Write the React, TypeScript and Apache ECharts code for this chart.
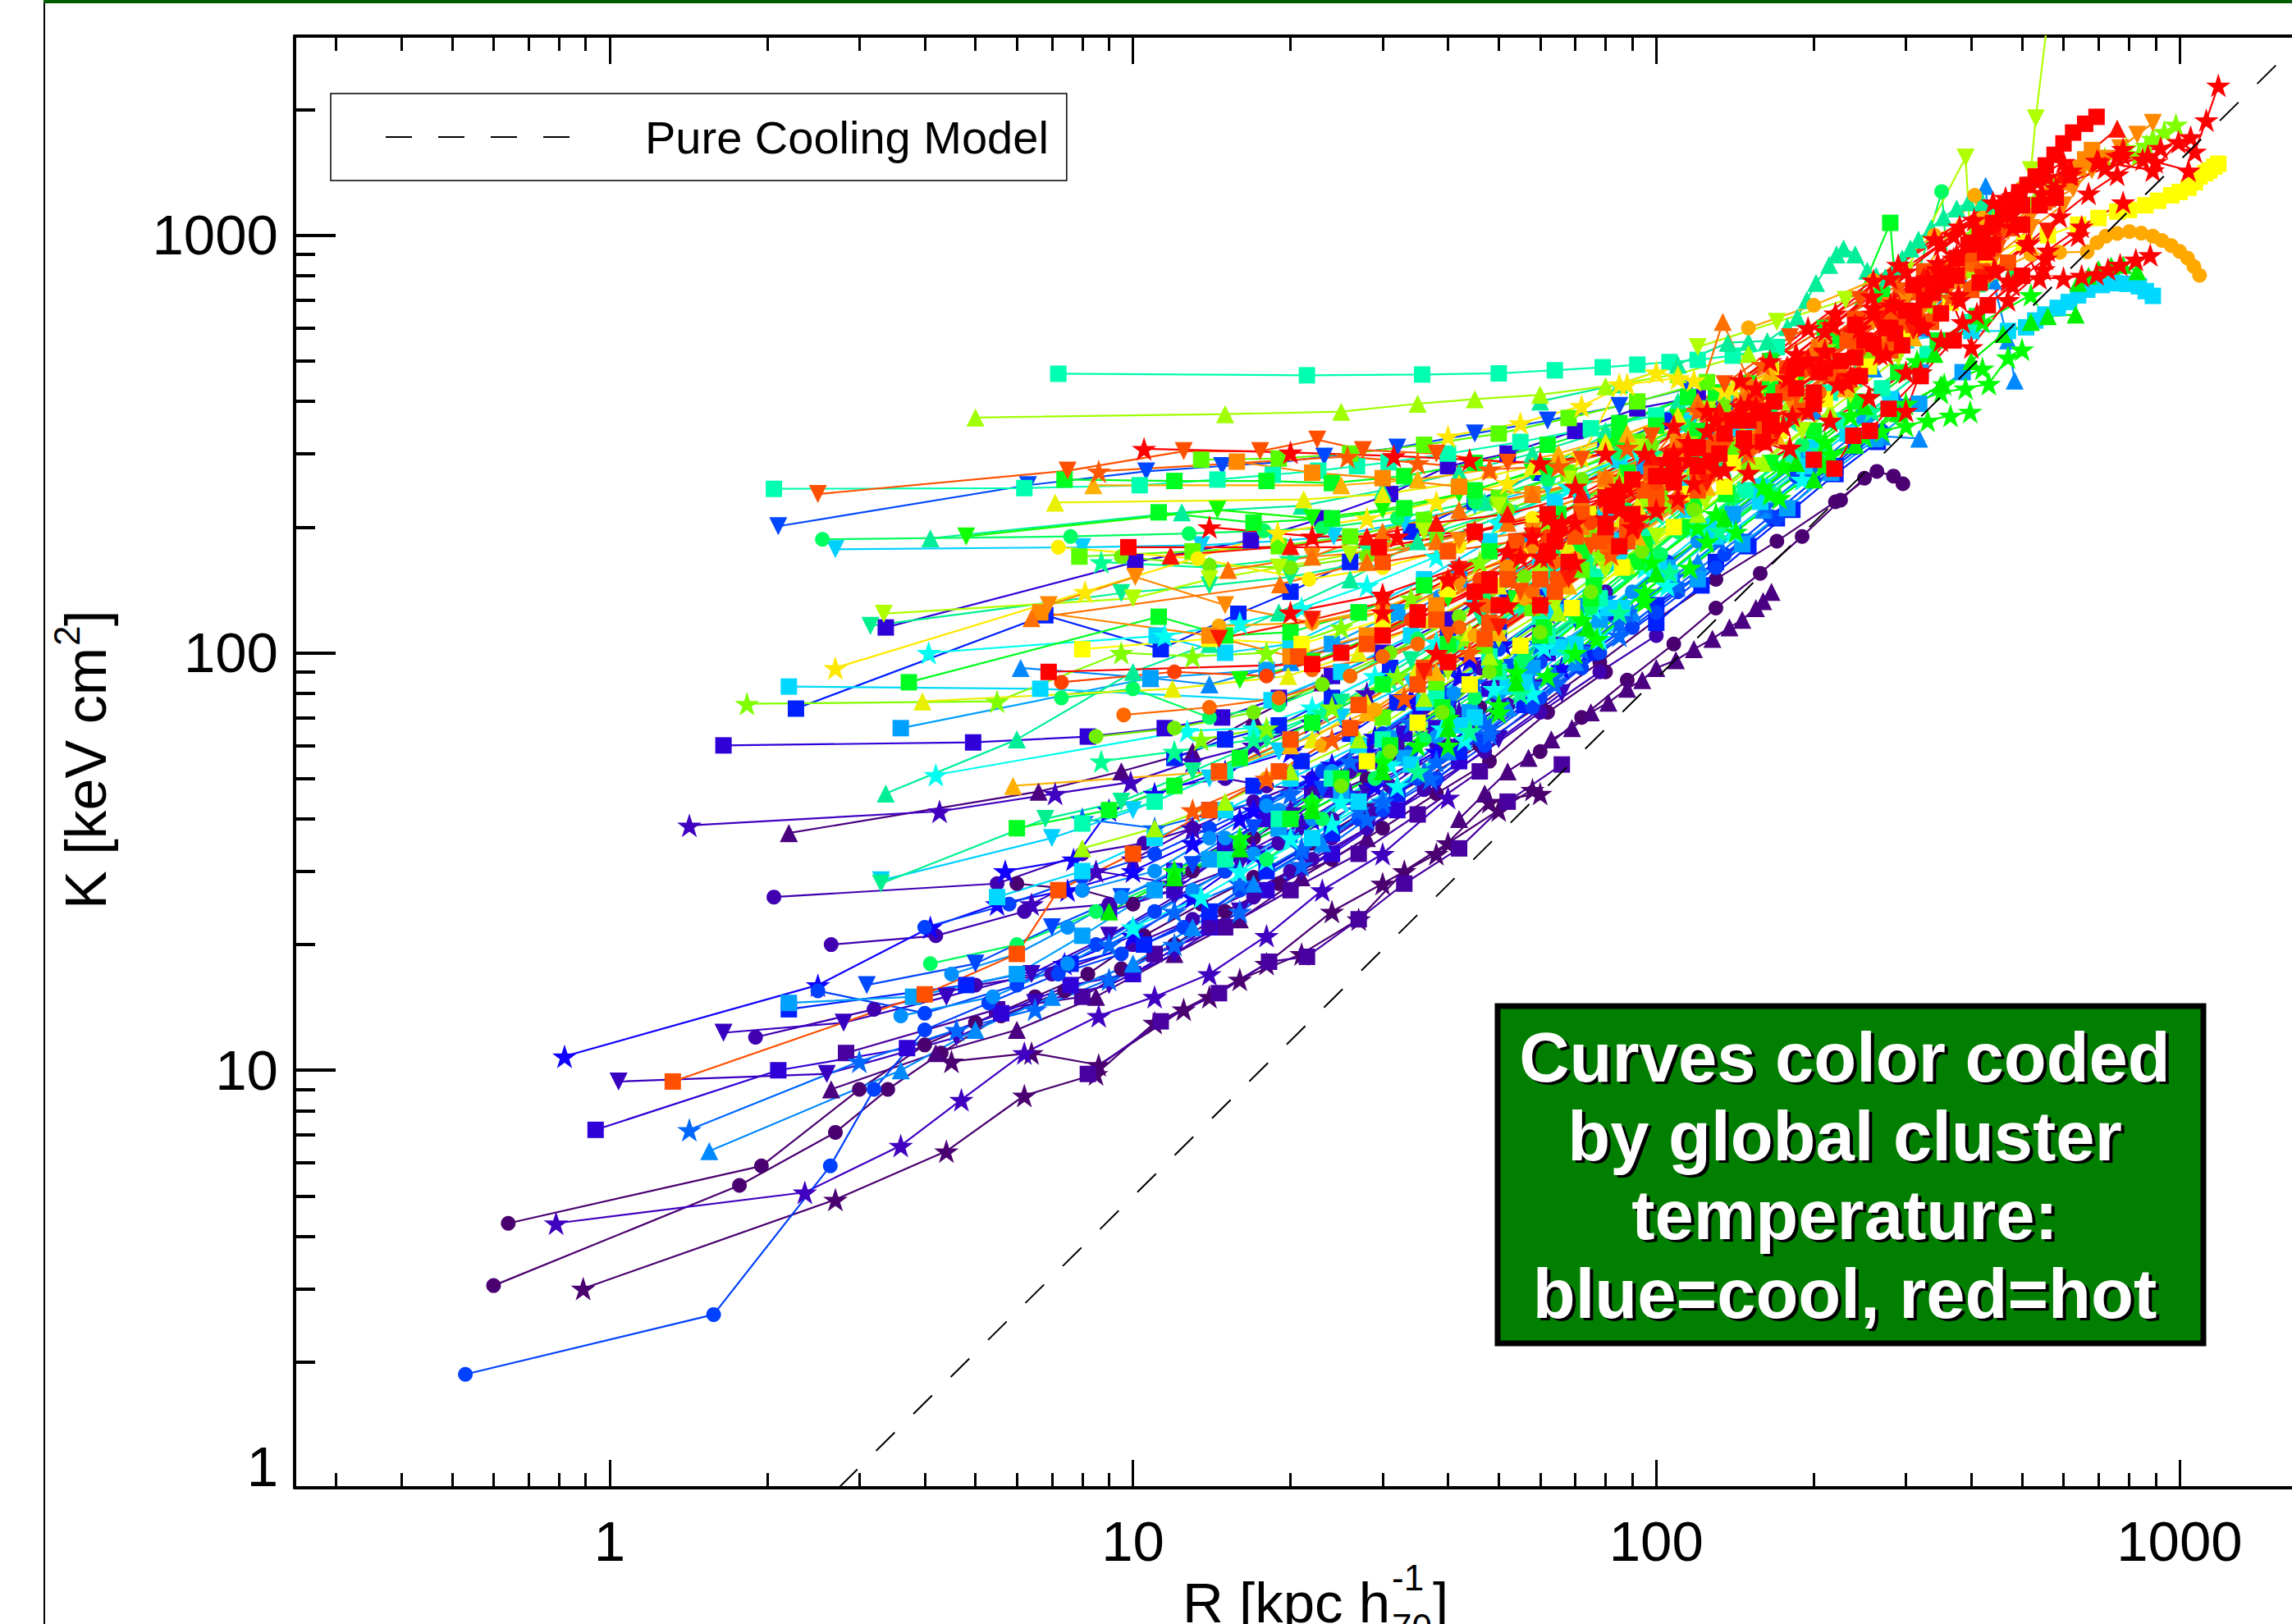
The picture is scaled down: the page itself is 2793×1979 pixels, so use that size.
import React, { useEffect, useRef } from "react";
import * as echarts from "echarts";

type Curve = number[][];

const xMajorTicks = [1, 10, 100, 1000];
const xMinorTicks = [0.3, 0.4, 0.5, 0.6, 0.7, 0.8, 0.9, 2, 3, 4, 5, 6, 7, 8, 9, 20, 30, 40, 50, 60, 70, 80, 90, 200, 300, 400, 500, 600, 700, 800, 900];
const yMajorTicks = [1, 10, 100, 1000];
const yMinorTicks = [2, 3, 4, 5, 6, 7, 8, 9, 20, 30, 40, 50, 60, 70, 80, 90, 200, 300, 400, 500, 600, 700, 800, 900, 2000, 3000];
const coolingModel: Curve = [[2.74, 1], [1640, 2789]];

const purpleCircles: Curve[] = [
  [[.6,3.05],[1.77,5.3],[2.7,7.1],[3.4,9],[4.3,11],[5.6,13.5],[7.4,15.5],[9.5,17.5],[12,20],[15,24],[19,28],[24,32],[30,38],[38,46],[48,55],[62,72],[80,90]],
  [[.64,4.3],[1.95,5.9],[3,9],[4,11.5],[5,13],[6.5,15],[8.2,17],[10.5,21],[13.5,25],[17,29],[22,35],[28,42],[36,50],[46,60],[60,75],[78,95],[100,120],[130,150],[170,185],[220,230],[264,272],[284,265],[296,254]],
  [[6,28],[8,27],[10,25],[13,30],[17,36],[22,44],[28,50],[36,62],[46,74]],
  [[60,58],[72,70],[88,86],[108,105],[130,128],[158,155],[190,190],[225,232],[250,262]],
];
const purpleStars: Curve[] = [
  [[.89,3],[2.7,4.9],[4.4,6.4],[6.2,8.7],[8.5,9.8],[11,13],[14,15],[18,18],[24,24],[30,28],[38,33],[48,44],[60,46]],
  [[4.5,10.5],[6.4,11],[8.6,10.3],[12.5,14],[16,16.5],[21,19],[27,23],[33,30],[40,35],[50,42],[58,47]],
];
const purpleTriangles: Curve[] = [
  [[2.2,37],[6.6,46.5],[9.5,52],[13,58],[17,70],[23,85]],
  [[2.65,9],[4.2,11],[6,12.5],[8.5,15],[12,19],[16,23],[21,29],[28,36]],
  [[42,40],[47,46],[52,52],[57,56],[63,62],[69,66],[75,72],[81,76],[88,82],[94,86],[100,92],[109,96],[118,102],[128,108],[138,115],[146,120],[155,128],[160,133],[166,140]],
];
const violetSquares: Curve[] = [
  [[8.2,9.8],[11.3,13.1],[14.6,15.3],[18.2,18.2],[21.5,18.7],[27,23],[33,28],[42,34],[52,44],[66,54]],
  [[2.83,11],[5.5,14],[8,15],[11,19],[15,22],[20,27],[27,33],[35,41],[46,52]],
];
const indigoSquares: Curve[] = [
  [[.94,7.2],[2.1,10],[3.7,11.3],[5.6,13.7],[7.6,16],[10,17],[14,22],[18,27],[24,33],[32,42],[42,55]],
  [[3.37,115],[10.1,165],[16.8,186],[23,210],[31,240],[40,280],[52,300],[70,340],[92,385],[120,410]],
  [[1.65,60],[4.95,61],[8.2,63],[11.5,66],[14.8,70],[19,78],[24,88],[30,100],[40,120],[52,150],[70,190]],
  [[9,24],[12,27],[15,33],[19,38],[24,47],[30,55],[38,66],[48,82],[62,100],[80,125],[105,160]],
  [[12,30],[15,35],[18,40],[22,46],[27,54],[33,64],[40,76],[50,90]],
];
const indigoStars: Curve[] = [
  [[1.42,38.6],[4.27,41.7],[7.1,46],[9.9,49],[13,55],[17,60],[22,68],[28,80]],
  [[.79,4.3],[2.36,5.1],[3.6,6.6],[4.7,8.5],[6.2,11],[8.6,13.5],[11,15],[14,17],[18,21],[23,27],[30,33],[40,45]],
  [[6.4,25],[8.5,30],[12,28],[16,34],[20,42],[25,50],[32,58],[42,72]],
  [[10,32],[13,38],[17,34],[21,39],[26,46],[34,54],[44,68],[58,85]],
];
const indigoCircles: Curve[] = [
  [[2.06,26],[5.5,28],[8,33],[10.5,35],[13,38],[17,44],[22,50],[28,60],[36,74],[46,92],[60,115],[80,140]],
  [[2.65,20],[4.2,21],[6.2,24],[9,25],[12,27],[15,30],[19,35],[24,40],[31,48],[40,60],[52,75]],
  [[1.9,12],[3.2,14],[5,16],[7,17],[10,20],[13,23],[17,27],[22,32],[28,38],[36,47],[47,58],[60,72],[78,90],[100,110]],
  [[12,48],[15,50],[18,48],[22,47],[26,52],[32,60],[40,70],[50,85],[65,105]],
  [[14,22],[17,26],[20,30],[24,36],[29,42],[35,50],[42,60],[50,72]],
];
const indigoInverted: Curve[] = [
  [[1.04,9.4],[2.6,9.8],[4.6,12],[6.5,14.5],[9,16],[12,19],[16,24],[21,30],[28,38],[38,48],[50,62],[66,80]],
  [[1.65,12.3],[2.8,13],[4.4,15],[6.4,17],[9,21],[12,26],[16,31],[21,38],[28,46],[38,58],[50,74]],
];
const blueStars: Curve[] = [
  [[.82,10.8],[2.5,16],[4.1,22],[5.5,25],[7.5,27],[10,30],[13,35],[17,42],[22,50],[28,58],[35,70]],
  [[5.7,30],[7.7,32],[9,42],[11,46],[15,52],[20,58],[26,66],[34,78],[44,96]],
  [[7.4,18],[10,21],[13,26],[17,33],[22,40],[29,48],[38,58],[50,72],[66,92]],
  [[16,40],[20,46],[24,54],[29,63],[35,74],[42,88],[51,105],[62,125]],
];
const blueSquares: Curve[] = [
  [[2.27,73.5],[6.8,123],[11.3,102],[15.9,124],[20,140],[26,165],[34,195],[45,230],[60,270],[80,310],[105,360],[135,400],[170,470]],
  [[2.2,14],[4.8,16],[7.6,18],[10.5,20],[14,24],[18,30],[24,37],[32,46],[42,58],[56,75],[75,100],[100,130],[130,165],[170,210],[220,280]],
  [[12,56],[15,62],[19,67],[24,78],[31,92],[40,110],[52,135],[68,165],[90,205],[120,260]],
  [[14,42],[17,48],[21,55],[26,64],[32,76],[40,92],[50,112],[62,136]],
  [[100,118],[122,145],[150,180],[182,220],[220,268],[265,320]],
];
const blueCircles: Curve[] = [
  [[.53,1.87],[1.58,2.6],[2.64,5.9],[3.2,9],[4,12.5],[5.3,14.5],[7.2,17],[9.5,19],[12.5,22],[16,27],[21,33],[27,40],[35,50],[46,62],[60,78],[78,100],[100,125],[130,160],[170,210],[220,280],[270,340]],
  [[2.5,15.5],[4,13.7],[6,16],[8.5,20],[11,24],[15,30],[20,36],[26,45],[34,58],[45,72],[60,95],[80,125],[105,165],[140,210],[185,265],[240,320]],
  [[4,22],[5.8,25],[8,29],[11,33],[14,38],[18,44],[23,52],[30,64],[39,80],[50,102],[66,130]],
  [[30,42],[38,50],[47,60],[58,74],[72,92],[90,115],[110,140],[135,172],[165,212],[200,258],[240,310]],
];
const blueInverted: Curve[] = [
  [[2.1,201],[6.3,252],[10.6,272],[14.8,280],[19,286],[23.2,295],[32,310],[45,335],[62,360],[85,390],[115,430]],
  [[3.1,16],[5,18],[7,22],[9.5,26],[13,31],[17,38],[23,47],[30,59],[40,74],[53,92],[70,120]],
];
const azureTriangles: Curve[] = [
  [[1.55,6.4],[3.6,10],[5,12.5],[7,15],[10,18],[13,22],[17,28],[23,35],[30,45],[40,58],[52,74],[70,95],[90,125],[120,165],[160,220],[210,290],[270,330],[318,326]],
  [[150,300],[200,380],[260,480],[320,600],[380,800],[426,1314],[440,780],[470,560],[484,449]],
  [[6.1,92],[10.8,87],[14,84],[20,95],[28,110],[38,135],[52,165]],
];
const azureStars: Curve[] = [
  [[1.42,7.2],[3,10.5],[4.6,12.5],[6.5,14],[9,16.5],[12,20],[16,24],[21,31],[28,40],[37,50],[48,64],[64,84],[85,110],[110,145],[145,190]],
  [[8,40],[11,38],[15,42],[20,46],[26,55],[34,68],[45,85],[60,105],[80,135]],
  [[9,20],[12,24],[16,28],[21,34],[27,42],[36,52],[48,66],[64,88],[85,118]],
  [[30,44],[38,55],[47,68],[58,84],[72,102],[88,125],[108,152],[132,185],[162,225],[198,275],[240,335],[290,400]],
];
const azureSquares: Curve[] = [
  [[2.2,14.5],[3.8,15],[6,17],[8,21],[11,27],[14,32],[19,38],[25,46],[33,56],[44,72],[58,92],[78,120],[105,160],[140,215],[190,290],[250,370],[320,470]],
  [[3.6,66],[10.8,87],[18,91],[24,105],[32,125],[42,150],[55,185],[72,230],[95,280],[125,330]],
  [[120,150],[146,182],[178,222],[216,270],[262,325],[318,395],[385,470]],
];
const azureCircles: Curve[] = [
  [[3.6,13.5],[5.4,15],[7.5,18],[10,22],[13,27],[17,33],[22,40],[29,50],[38,63],[50,80],[66,105],[90,140],[120,185],[160,240],[210,310]],
  [[8,27],[11,30],[14,36],[18,43],[24,52],[31,63],[41,80],[55,100],[72,130],[95,170]],
  [[4.5,17],[6,19],[7.5,22],[9.5,26],[12,30],[15,36],[19,42],[24,50]],
];
const cyanSquares: Curve[] = [
  [[2.2,83],[6.65,82],[18.4,77],[25,90],[34,110],[45,135],[60,170],[80,215],[105,270],[140,345]],
  [[11.1,110],[15,100],[20,105],[27,125],[36,150],[48,185],[64,230],[85,290],[115,360],[150,420],[200,490],[300,560],[400,590],[470,590],[509,602],[530,625],[554,646],[585,670],[614,692],[640,718],[666,741],[710,760],[754,768],[795,765],[836,755],[862,735],[889,716]],
  [[5.5,26],[8,30],[11,36],[15,42],[20,50],[27,60],[36,76],[48,96],[64,125],[85,165],[115,220]],
  [[45,70],[56,85],[70,105],[86,128],[106,155],[130,190],[158,230],[192,280],[232,335],[280,405]],
  [[22,36],[27,44],[34,54],[42,67],[52,83],[65,103],[81,128],[101,160],[126,200],[158,250],[198,310]],
];
const cyanInverted: Curve[] = [
  [[2.7,177],[8,179],[13.5,181],[18.7,185],[24.2,190],[33,205],[45,225],[62,250],[85,290],[115,345]],
  [[3.3,28.5],[7,36],[10,42],[14,50],[19,58],[25,70],[34,85],[46,108],[62,140],[85,185],[115,245]],
];
const cyanStars: Curve[] = [
  [[4.2,51],[12.7,65],[17,66],[22,74],[29,88],[38,106],[50,130],[66,165],[88,210],[118,270],[155,340]],
  [[4.07,100],[11.5,110],[16,118],[21,128],[28,145],[38,170],[50,205],[68,250],[90,305]],
  [[10,22],[13.5,26],[18,32],[24,39],[32,48],[43,62],[58,80],[78,108],[105,145],[140,195],[190,260]],
  [[16,30],[20,36],[25,44],[31,54],[39,66],[49,82],[61,103],[76,128],[95,160],[118,200]],
];
const tealSquares: Curve[] = [
  [[2.06,247],[6.2,248],[10.3,252],[14.5,260],[18.5,267],[22.6,273],[26.8,280],[30.8,286],[40,300],[55,320],[75,345],[100,370],[135,420]],
  [[7.2,466],[21.5,462],[35.7,464],[50,467],[64,475],[79,483],[92,490],[106,497],[120,503],[140,515],[170,540]],
  [[8,39],[11,44],[15,52],[20,62],[27,75],[36,92],[48,115],[65,145],[88,190],[120,250],[160,325],[215,420]],
  [[50,90],[62,110],[78,135],[98,165],[120,200],[148,245],[182,300],[222,360],[270,430],[330,520],[400,620]],
  [[15,32],[19,40],[24,50],[30,62],[38,78],[48,98],[60,122],[76,152],[96,190],[120,238]],
];
const tealTriangles: Curve[] = [
  [[60,400],[85,440],[110,490],[137,553],[150,556],[163,558],[178,603],[186,636],[194,700],[202,769],[214,850],[221,900],[228,930],[240,900],[253,823],[263,800],[274,794],[285,830],[295,880],[306,930],[317,977],[335,1040],[354,1105],[375,1160],[395,1200],[420,1200],[440,1150]],
  [[3.37,46],[6,62],[10,90],[14,105],[19,125],[26,150],[35,185],[47,230],[64,285],[86,350]],
  [[4.1,188],[12.4,217],[21,225],[30,245],[42,270],[58,300],[80,340],[110,400]],
];
const tealInverted: Curve[] = [
  [[3.15,116],[9.5,139],[14,145],[20,152],[28,165],[38,185],[52,215],[72,255],[98,305]],
  [[3.3,28],[6.8,40],[9.5,44],[13,52],[18,62],[25,76],[34,96],[46,122],[62,155]],
];
const tealStars: Curve[] = [
  [[8.7,55],[12,58],[17,62],[23,72],[31,86],[42,105],[56,130],[75,165],[100,215],[135,280],[180,360],[240,460]],
  [[8.7,165],[14,160],[20,168],[28,180],[38,195],[52,220],[72,255],[98,300]],
  [[35,52],[44,65],[55,80],[68,100],[85,125],[106,156],[132,196],[165,245],[206,305],[258,380],[320,470]],
];
const greenCircles: Curve[] = [
  [[2.55,187],[7.6,190],[12.8,193],[17.8,196],[23,199],[32,210],[45,230],[62,260],[85,300],[115,350]],
  [[7.3,78],[10,82],[14,70],[19,75],[26,88],[35,108],[47,135],[64,170],[88,220],[120,290],[165,380],[225,500],[300,640],[351,1273],[365,700],[420,760],[480,800]],
  [[4.1,18],[6,20],[8.5,24],[12,29],[16,35],[22,44],[30,56],[40,72],[55,95],[75,128],[102,172],[140,235],[190,315]],
  [[18,32],[23,40],[29,50],[36,62],[45,78],[56,98],[70,122],[88,155],[110,195],[138,245]],
];
const greenSquares: Curve[] = [
  [[3.73,85],[11.2,122],[15,110],[20,112],[27,125],[36,145],[48,175],[65,215],[88,270],[120,340],[165,430],[225,560],[280,1071],[290,620],[340,740]],
  [[7.4,260],[12,258],[18,258],[24,255],[33,265],[45,285],[62,315],[85,355],[115,410]],
  [[11.2,217],[17,205],[24,210],[33,222],[45,245],[62,280],[85,325]],
  [[6,38],[9,42],[12,48],[16,56],[22,68],[30,84],[40,105],[54,135],[72,175],[98,230],[132,300]],
  [[60,110],[75,135],[92,165],[112,200],[136,240],[165,285],[200,340],[240,400],[290,470],[345,560],[410,640]],
  [[20,40],[25,50],[31,60],[39,74],[49,92],[61,115],[76,145],[95,182],[118,230]],
  [[100,350],[130,420],[165,500],[210,600],[270,720]],
];
const greenStars: Curve[] = [
  [[35,60],[50,75],[70,100],[95,140],[125,185],[165,240],[215,300],[270,340],[300,350],[330,360],[365,370],[398,378]],
  [[120,200],[160,250],[210,320],[280,380],[350,420],[390,430],[432,441],[470,510],[500,533]],
  [[12,30],[16,36],[22,44],[30,55],[40,70],[54,90],[72,120],[98,165],[130,215],[175,280],[235,370],[315,500],[420,620],[520,720]],
  [[40,60],[50,72],[62,88],[77,108],[95,133],[116,160],[142,195],[172,235],[208,280],[250,330],[300,395],[355,440],[420,480]],
];
const greenTriangles: Curve[] = [
  [[400,500],[460,580],[520,620],[560,640],[633,646],[640,770],[670,800],[700,830],[740,845],[780,850],[830,820]],
  [[9,24],[12,29],[16,34],[22,42],[30,52],[40,66],[54,85],[74,115],[100,155],[135,210],[185,285],[250,390],[340,520]],
  [[200,260],[240,315],[290,375],[350,440]],
];
const greenInverted: Curve[] = [
  [[4.8,190],[14.5,220],[22,210],[30,220],[42,240],[58,270],[80,310],[110,365],[150,440]],
  [[16,86],[22,95],[30,112],[40,135],[54,165],[74,210],[100,265],[135,340],[185,440]],
];
const limeStars: Curve[] = [
  [[1.83,75.5],[5.5,76.5],[9.5,100],[13,98],[18,100],[25,115],[34,135],[46,165],[62,205],[85,260],[115,325],[155,420],[210,540]],
  [[400,1000],[440,1080],[480,1150],[530,1220],[575,1310],[620,1400],[665,1480],[720,1530],[790,1620],[836,1560],[865,1640],[889,1702],[935,1770],[984,1842]],
  [[13.5,62],[18,66],[24,74],[32,88],[43,108],[58,135],[78,172],[105,225],[142,295],[190,385],[255,505],[340,660]],
];
const limeTriangles: Curve[] = [
  [[5,366],[15,373],[25,378],[35,395],[45,405],[60,415],[80,435],[110,465],[150,520]],
  [[8,34],[11,38],[15,44],[20,52],[27,62],[36,78],[48,98],[65,125],[88,162],[120,215],[160,285],[215,380]],
  [[60,165],[75,195],[95,235],[118,280],[146,335],[180,400],[222,480],[270,570],[330,690],[400,830]],
];
const limeCircles: Curve[] = [
  [[8.5,63],[12,66],[17,72],[23,84],[31,100],[42,122],[56,152],[76,190],[102,240],[138,310],[185,400],[250,520]],
  [[9.5,170],[14,162],[20,160],[28,170],[38,190],[52,220],[72,260],[98,315],[135,390]],
  [[25,48],[31,58],[39,72],[48,90],[60,112],[75,140],[94,175],[118,220],[148,275]],
];
const limeSquares: Curve[] = [
  [[7.9,170],[13,175],[19,180],[26,190],[36,208],[50,235],[68,270],[92,320],[125,385]],
  [[13.5,290],[19,292],[26,300],[36,315],[50,335],[68,365],[92,400],[125,445]],
  [[30,70],[38,85],[47,104],[58,128],[72,158],[90,195],[112,240],[140,300]],
];
const yellowLimeInverted: Curve[] = [
  [[3.34,124],[10,135],[14,150],[19,160],[26,172],[36,195],[50,225],[68,260],[92,310],[125,380],[170,470]],
  [[120,540],[170,620],[230,700],[300,820],[390,1535],[400,900],[460,1050],[520,1432],[531,1905],[566,3700]],
  [[40,90],[50,108],[64,130],[80,158],[100,190],[124,230],[154,280],[190,340],[235,415],[290,510]],
];
const yellowTriangles: Curve[] = [
  [[3.96,76.5],[11.9,82],[19.8,88],[27,100],[37,120],[50,145],[68,180],[92,225],[125,285],[170,360],[230,460]],
  [[7.1,229],[21.2,233],[30,240],[42,255],[58,280],[80,320],[110,370],[150,440]],
  [[22,62],[28,76],[35,92],[44,112],[55,138],[69,170],[86,210],[108,260]],
];
const yellowStars: Curve[] = [
  [[2.7,92],[8.1,140],[18.9,194],[28,210],[38,230],[52,255],[72,295],[85,440],[100,470],[118,450],[140,430],[170,470]],
  [[40,330],[55,355],[72,390],[88,440],[110,455],[135,425]],
];
const yellowCircles: Curve[] = [
  [[7.2,179],[13.3,168],[21.7,150],[30,160],[42,180],[58,210],[80,250],[110,305],[150,375],[205,470]],
];
const yellowSquares: Curve[] = [
  [[8,102],[14,108],[21,105],[30,120],[40,142],[55,175],[74,215],[100,270],[135,340],[180,440],[240,580],[320,750],[430,900],[560,1000],[640,1060],[700,1100],[760,1140],[800,1150],[860,1180],[910,1210],[964,1247],[1000,1270],[1040,1300],[1070,1340],[1092,1384],[1120,1410],[1140,1430],[1165,1460],[1186,1484]],
  [[90,200],[112,240],[140,285],[172,340],[210,405],[255,485],[305,580],[365,690],[430,820],[505,960]],
  [[28,55],[35,68],[44,84],[55,104],[69,128],[86,160],[108,200],[135,250]],
];
const amberTriangles: Curve[] = [
  [[5.9,48],[14.6,52],[20,60],[28,72],[38,90],[50,112],[68,145],[92,190],[125,250],[170,330],[230,430],[310,570]],
  [[8.4,252],[25,252],[35,260],[48,275],[65,300],[88,335],[120,390],[165,470]],
];
const amberCircles: Curve[] = [
  [[14.6,116],[22,118],[30,128],[42,150],[58,180],[80,225],[110,285],[150,360],[205,470],[280,620],[406,1247],[430,800],[520,900],[590,910],[666,913],[695,960],[723,995],[760,1010],[802,1021],[845,1012],[889,995],[925,972],[964,945],[1000,915],[1036,882],[1065,842],[1092,802]],
  [[150,600],[200,680],[260,780],[340,1000],[420,1100],[500,1300]],
  [[18,50],[23,60],[29,73],[36,90],[45,110],[56,135],[70,168],[88,210]],
];
const orangeInverted: Curve[] = [
  [[6.9,130],[10.1,152],[15,130],[22,118],[30,125],[42,145],[58,175],[80,220],[110,285],[150,370],[205,480],[260,620],[300,700],[340,790],[380,860],[425,940],[470,1020],[520,1110],[570,1210],[626,1291],[680,1432],[725,1525],[770,1616],[830,1740],[889,1858]],
  [[22,170],[30,175],[42,185],[58,195],[80,225],[110,280],[150,360],[205,470],[280,600],[380,790]],
  [[100,220],[122,265],[150,325],[182,390],[220,465],[265,545],[318,640],[378,760],[445,890],[520,1040],[600,1180]],
];
const orangeSquares: Curve[] = [
  [[15.8,287],[22,270],[30,262],[42,250],[58,240],[80,260],[110,320],[150,430],[205,540],[280,680],[380,880],[470,1050],[560,1250],[600,1340],[640,1450],[660,1520],[680,1600]],
  [[6.65,125],[14,110],[20,98],[28,110],[38,130],[52,160],[72,200],[98,255],[134,330],[180,420],[245,550],[330,720]],
];
const orangeTriangles: Curve[] = [
  [[6.4,121],[19.1,146],[28,165],[38,185],[52,205],[72,235],[98,290],[120,400],[134,620],[150,450],[200,540],[270,670],[360,860]],
  [[15.2,158],[22,170],[30,195],[42,220],[58,240],[80,265],[110,320],[150,420]],
];
const orangeCircles: Curve[] = [
  [[9.6,71],[14,74],[19,78],[26,88],[35,105],[47,130],[64,165],[88,210],[120,270],[165,350],[225,470],[300,620],[400,850]],
  [[22,91],[30,98],[42,115],[58,140],[80,180],[110,235],[150,310],[205,420],[280,560]],
];
const orangeRedSquares: Curve[] = [
  [[1.32,9.4],[4,15.2],[6,19],[7.2,27],[10,33],[14,42],[19,52],[26,66],[35,84],[47,108],[64,140],[88,185],[120,245],[165,330],[225,450],[310,610],[420,820]],
  [[20.7,98],[28,105],[38,120],[52,150],[70,190],[95,245],[130,320],[175,420],[240,560],[320,730],[430,950],[560,1220]],
  [[30,165],[40,175],[54,185],[72,215],[98,270],[132,360],[178,480],[240,630],[325,820]],
  [[14.6,52],[20,62],[27,75],[36,92],[48,118],[65,150],[88,200],[120,265],[160,350],[215,465],[290,620]],
  [[60,150],[78,185],[100,240],[125,310],[155,400],[190,480],[232,560],[280,650],[335,760],[400,900],[470,1040],[550,1200]],
  [[80,190],[100,225],[125,270],[155,320],[190,380],[232,450],[280,530],[335,620],[400,740],[470,860]],
];
const orangeRedInverted: Curve[] = [
  [[2.5,240],[7.5,273],[12.5,304],[17.5,304],[22.5,324],[27.5,306],[38,300],[52,285],[72,290],[98,330],[135,440],[180,570],[245,700]],
  [[40,110],[55,140],[75,180],[100,235],[135,310],[185,410],[250,540],[335,710],[450,930]],
];
const orangeRedStars: Curve[] = [
  [[8.6,272],[25.7,295],[35,285],[48,275],[65,280],[88,310],[120,380],[160,490],[215,610],[290,760]],
  [[13,42],[18,50],[24,62],[33,78],[44,100],[60,130],[82,172],[110,228],[150,300],[200,395],[270,530],[365,710]],
];
const orangeRedCircles: Curve[] = [
  [[7.3,85],[12,90],[18,88],[25,100],[34,120],[46,150],[62,190],[84,240],[115,310],[155,400],[210,520],[285,680]],
  [[40,150],[55,170],[75,205],[100,255],[135,335],[180,440],[245,570],[330,750]],
];
const redTriangles: Curve[] = [
  [[11.8,171],[20,180],[28,190],[38,205],[52,215],[72,240],[98,295],[132,380],[178,490],[240,620],[325,800],[440,1050],[600,1400],[760,1800]],
];
const redInverted: Curve[] = [
  [[14.6,108],[22,120],[30,132],[42,158],[58,190],[80,235],[108,295],[146,375],[197,480],[265,620],[360,810]],
  [[36,90],[50,115],[68,150],[92,195],[125,255],[170,335],[230,445],[310,590],[420,790],[560,1020]],
];
const redSquares: Curve[] = [
  [[9.8,179],[29.5,179],[45,195],[62,215],[80,235],[100,265],[120,310],[150,360],[185,430],[225,500],[260,550],[286,582],[311,646],[338,729],[355,800],[375,882],[395,950],[415,1012],[440,1070],[460,1124],[478,1200],[494,1268],[512,1320],[531,1383],[555,1470],[577,1559],[600,1660],[626,1762],[660,1850],[694,1922]],
  [[6.9,90],[22,94],[30,110],[45,140],[65,200],[90,260],[117,309],[147,326],[166,361],[200,420],[240,510],[280,600],[325,700],[375,800],[430,930]],
  [[40,95],[60,130],[85,180],[108,256],[127,288],[160,320],[200,290],[219,276],[238,331],[256,340],[278,384],[320,460],[370,560],[430,680],[500,800]],
  [[50,130],[68,165],[90,215],[120,280],[160,375],[210,480],[275,600],[350,760],[440,950],[540,1180]],
  [[80,200],[105,265],[140,360],[185,480],[240,610],[310,760],[400,960],[500,1180]],
  [[35,120],[48,150],[64,185],[84,230],[108,280],[135,335],[168,400],[205,470],[250,560],[300,660],[358,780],[425,910],[500,1060],[580,1230]],
  [[25,100],[35,125],[48,145],[62,175],[82,225],[105,265],[132,300],[165,350],[200,395],[245,460],[295,545],[350,650],[415,770]],
];
const redStars: Curve[] = [
  [[10.5,308],[20,302],[31.5,296],[44,290],[60,285],[80,300],[108,350],[145,450],[195,600],[260,780],[340,980],[440,1200],[560,1380],[700,1500],[889,1432],[995,1673],[1069,1588],[1125,1887],[1186,2286]],
  [[14,200],[22,190],[32,190],[45,195],[62,210],[85,250],[115,320],[155,430],[210,590],[280,790],[370,1000],[480,1240],[620,1430],[780,1560],[920,1620],[1050,1720]],
  [[45,130],[62,170],[85,220],[115,290],[155,390],[210,530],[280,680],[370,880],[480,1050],[540,790],[600,790],[650,800],[694,808],[730,830],[770,851],[825,875],[879,897]],
  [[60,170],[80,210],[108,270],[145,370],[195,500],[260,670],[345,860],[450,1100],[580,1300],[720,1450],[870,1550]],
  [[100,220],[130,275],[175,350],[235,460],[300,380],[320,470],[385,620],[470,780],[560,920],[650,1050],[780,1200]],
  [[70,250],[95,300],[125,380],[165,500],[220,650],[290,850],[380,1050],[490,1250],[620,1400],[760,1550],[900,1500],[1040,1430]],
  [[20,125],[30,138],[42,160],[58,190],[80,235],[108,300],[145,390],[195,505],[260,650],[345,830],[400,540],[470,700],[550,830]],
  [[30,125],[40,150],[52,175],[66,205],[84,245],[104,290],[125,340],[150,395],[178,455],[210,525],[245,600],[285,690],[330,790],[375,900],[425,1010],[480,1130],[545,1265],[615,1400],[695,1510],[780,1610]],
  [[55,170],[70,205],[88,250],[108,300],[130,360],[155,430],[185,520],[218,610],[258,715],[300,820],[350,950],[405,1090],[465,1230],[530,1360],[600,1500]],
  [[90,200],[110,235],[135,275],[162,320],[195,380],[232,445],[275,520],[325,605],[380,700],[445,820],[515,960],[590,1110],[670,1260],[760,1400],[850,1520]],
  [[38,100],[52,130],[70,165],[92,210],[118,255],[148,310],[182,370],[222,440],[268,520],[320,610],[378,720],[442,830],[510,950]],
  [[150,270],[180,310],[215,360],[255,410],[300,470],[350,560],[410,650],[480,760],[555,880],[640,1000]],
];

const curveGroups: [Curve[], string, string][] = [
  [purpleCircles, "#4A0070", "circle"], [purpleStars, "#4A0070", "star"], [purpleTriangles, "#4A0080", "triangle"],
  [violetSquares, "#4800A0", "square"], [indigoSquares, "#3000D8", "square"], [indigoStars, "#4000C0", "star"],
  [indigoCircles, "#4000B0", "circle"], [indigoInverted, "#3800C0", "inverted"], [blueStars, "#1000FF", "star"],
  [blueSquares, "#0020FF", "square"], [blueCircles, "#0040FF", "circle"], [blueInverted, "#0048FF", "inverted"],
  [azureTriangles, "#0088FF", "triangle"], [azureStars, "#0068FF", "star"], [azureSquares, "#00A0FF", "square"],
  [azureCircles, "#0090FF", "circle"], [cyanSquares, "#00D8FF", "square"], [cyanInverted, "#00D0FF", "inverted"],
  [cyanStars, "#00FFF0", "star"], [tealSquares, "#00FFB0", "square"], [tealTriangles, "#00EE98", "triangle"],
  [tealInverted, "#00F090", "inverted"], [tealStars, "#00FF90", "star"], [greenCircles, "#00FF60", "circle"],
  [greenSquares, "#00FF20", "square"], [greenStars, "#00FF00", "star"], [greenTriangles, "#00F000", "triangle"],
  [greenInverted, "#10FF00", "inverted"], [limeStars, "#80FF00", "star"], [limeTriangles, "#A0FF00", "triangle"],
  [limeCircles, "#70F000", "circle"], [limeSquares, "#58FF00", "square"], [yellowLimeInverted, "#B0FF00", "inverted"],
  [yellowTriangles, "#E8F000", "triangle"], [yellowStars, "#FFE800", "star"], [yellowCircles, "#FFF000", "circle"],
  [yellowSquares, "#FFFF00", "square"], [amberTriangles, "#FFB000", "triangle"], [amberCircles, "#FFA800", "circle"],
  [orangeInverted, "#FF8800", "inverted"], [orangeSquares, "#FF8800", "square"], [orangeTriangles, "#FF7000", "triangle"],
  [orangeCircles, "#FF6800", "circle"], [orangeRedSquares, "#FF5000", "square"], [orangeRedInverted, "#FF5000", "inverted"],
  [orangeRedStars, "#FF5800", "star"], [orangeRedCircles, "#FF4000", "circle"], [redTriangles, "#FF1000", "triangle"],
  [redInverted, "#FF1800", "inverted"], [redSquares, "#FF0000", "square"], [redStars, "#FF0000", "star"],
];

const STAR = "path://M0,-1L.2245,-.309L.951,-.309L.363,.118L.588,.809L0,.382L-.588,.809L-.363,.118L-.951,-.309L-.2245,-.309Z";
const FONT = "'Liberation Sans', Arial, sans-serif";
const symbolOf: Record<string, any> = {
  circle: { symbol: "circle", symbolSize: 18 },
  square: { symbol: "rect", symbolSize: 20 },
  triangle: { symbol: "triangle", symbolSize: 22 },
  inverted: { symbol: "triangle", symbolSize: 22, symbolRotate: 180 },
  star: { symbol: STAR, symbolSize: [30, 29] },
};

function buildSeries() {
  const out: any[] = [];
  let n = 0;
  curveGroups.forEach(([curves, color, mark]) => {
    curves.forEach((c) => {
      n += 1;
      out.push({
        type: "line", name: `Cluster ${n}`, data: c, ...symbolOf[mark], showSymbol: true, showAllSymbol: true,
        silent: true, clip: true, z: 2, lineStyle: { color, width: 2.2 }, itemStyle: { color },
      });
    });
  });
  out.push({
    type: "line", name: "Pure Cooling Model", data: coolingModel, showSymbol: false, symbol: "none", silent: true, z: 5,
    lineStyle: { color: "#000", width: 2, type: [32, 32] }, itemStyle: { color: "#000" },
  });
  return out;
}

function logAxis(min: number, max: number, position: string, values: number[], len: number, width: number, extra: any = {}) {
  return {
    type: "log", logBase: 10, min, max, position, splitLine: { show: false }, minorTick: { show: false }, minorSplitLine: { show: false },
    axisLine: { show: false, onZero: false },
    axisTick: { show: true, inside: true, length: len, customValues: values, lineStyle: { color: "#000", width } },
    axisLabel: { show: false },
    ...extra,
  };
}

function labelled(values: number[], margin: number, extra: any = {}) {
  return {
    axisLine: { show: true, onZero: false, lineStyle: { color: "#000", width: 4 } },
    axisLabel: { show: true, customValues: values, color: "#000", fontFamily: FONT, fontSize: 69, margin, showMinLabel: true, showMaxLabel: true, hideOverlap: false, formatter: (v: number) => String(Math.round(v)), ...extra },
  };
}

const boxLines = ["Curves color coded", "by global cluster", "temperature:", "blue=cool, red=hot"];

export default function App() {
  const ref = useRef<HTMLDivElement>(null);
  useEffect(() => {
    document.body.style.margin = "0";
    document.body.style.overflow = "hidden";
    const chart = echarts.init(ref.current!, undefined, { renderer: "svg" });
    chart.setOption({
      animation: false,
      backgroundColor: "#fff",
      grid: { left: 359, top: 44, right: 0, bottom: 166, containLabel: false },
      legend: {
        data: [{ name: "Pure Cooling Model" }], left: 403, top: 114, orient: "horizontal",
        padding: [25, 22, 25, 66], borderColor: "#000", borderWidth: 1.5, itemWidth: 236, itemHeight: 20, itemGap: 0,
        itemStyle: { opacity: 0 },
        textStyle: { color: "#000", fontFamily: FONT, fontSize: 56, padding: [0, 0, 0, 75] }, selectedMode: false,
      },
      xAxis: [
        logAxis(.25, 1640, "bottom", xMajorTicks, 34, 3, labelled(xMajorTicks, 31)),
        logAxis(.25, 1640, "bottom", xMinorTicks, 18, 3),
        logAxis(.25, 1640, "top", xMajorTicks, 34, 3, { axisLine: { show: true, onZero: false, lineStyle: { color: "#000", width: 4 } } }),
        logAxis(.25, 1640, "top", xMinorTicks, 18, 3),
      ],
      yAxis: [
        logAxis(1, 3000, "left", yMajorTicks, 50, 4, labelled(yMajorTicks, 20, { verticalAlignMinLabel: "bottom", lineHeight: 52 })),
        logAxis(1, 3000, "left", yMinorTicks, 25, 4),
      ],
      series: buildSeries(),
      graphic: [
        { type: "rect", silent: true, z: 20, shape: { x: 53, y: 0, width: 2, height: 1979 }, style: { fill: "#000" } },
        { type: "rect", silent: true, z: 20, shape: { x: 53, y: 0, width: 2740, height: 4 }, style: { fill: "#005A00" } },
        { type: "rect", silent: true, z: 20, shape: { x: 1825, y: 1226, width: 860, height: 411 }, style: { fill: "#007F00", stroke: "#000", lineWidth: 7 } },
        ...boxLines.map((t, i) => ({
          type: "text", silent: true, z: 21, x: 2252, y: 1291 + i * 96,
          style: { text: t, fill: "#000", font: `bold 85px ${FONT}`, textAlign: "center", textVerticalAlign: "middle" },
        })),
        ...boxLines.map((t, i) => ({
          type: "text", silent: true, z: 22, x: 2248, y: 1288 + i * 96,
          style: { text: t, fill: "#fff", font: `bold 85px ${FONT}`, textAlign: "center", textVerticalAlign: "middle" },
        })),
        { type: "text", silent: true, z: 10, x: 1441, y: 1953, style: { text: "R [kpc h", fill: "#000", font: `69px ${FONT}`, textVerticalAlign: "middle" } },
        { type: "text", silent: true, z: 10, x: 1696, y: 1922, style: { text: "-1", fill: "#000", font: `44px ${FONT}`, textVerticalAlign: "middle" } },
        { type: "text", silent: true, z: 10, x: 1696, y: 1982, style: { text: "70", fill: "#000", font: `44px ${FONT}`, textVerticalAlign: "middle" } },
        { type: "text", silent: true, z: 10, x: 1746, y: 1953, style: { text: "]", fill: "#000", font: `69px ${FONT}`, textVerticalAlign: "middle" } },
        {
          type: "group", silent: true, z: 10, x: 105, y: 1108, rotation: Math.PI / 2,
          children: [
            { type: "text", x: 0, y: 0, style: { text: "K [keV cm", fill: "#000", font: `70px ${FONT}`, textVerticalAlign: "middle" } },
            { type: "text", x: 321, y: -24, style: { text: "2", fill: "#000", font: `44px ${FONT}`, textVerticalAlign: "middle" } },
            { type: "text", x: 345, y: 0, style: { text: "]", fill: "#000", font: `70px ${FONT}`, textVerticalAlign: "middle" } },
          ],
        },
      ],
    });
    return () => chart.dispose();
  }, []);
  return <div ref={ref} style={{ width: 2793, height: 1979 }} />;
}
